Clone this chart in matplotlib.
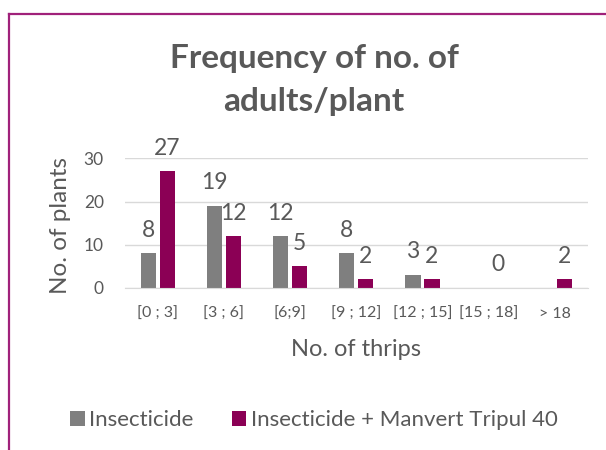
import numpy as np
import matplotlib
matplotlib.use('Agg')
import matplotlib.pyplot as plt
from matplotlib.lines import Line2D

plt.rcParams['font.family'] = ['Lato', 'DejaVu Sans']

categories = ['[0 ; 3]', '[3 ; 6]', '[6;9]', '[9 ; 12]', '[12 ; 15]', '[15 ; 18]', '> 18']
insecticide = [8, 19, 12, 8, 3, np.nan, np.nan]
manvert = [27, 12, 5, 2, 2, 0, 2]

text_col = '#595959'
grey = '#7f7f7f'
purple = '#8b0055'

fig = plt.figure(figsize=(6.06, 4.5), dpi=100)
ax = fig.add_axes([0.2056, 0.3607, 0.7647, 0.2871])

x = np.arange(len(categories))
w = 0.227
off = (w + 0.06) / 2
b1 = ax.bar(x - off, insecticide, w, color=grey, label='Insecticide')
b2 = ax.bar(x + off, manvert, w, color=purple, label='Insecticide + Manvert Tripul 40')

for bars in (b1, b2):
    labels = ax.bar_label(bars, fmt='%d', padding=9, fontsize=16.5, color=text_col)
    for t in labels:
        t.set_clip_on(False)

ax.set_xlim(-0.5, len(categories) - 0.5)
ax.set_ylim(0, 30)
ax.set_yticks([0, 10, 20, 30])
ax.set_xticks(x)
ax.set_xticklabels(categories)
ax.grid(axis='y', color='#d9d9d9', linewidth=1)
ax.set_axisbelow(True)
for s in ['top', 'right', 'left']:
    ax.spines[s].set_visible(False)
ax.spines['bottom'].set_color('#d9d9d9')
ax.tick_params(axis='x', length=0, pad=14, labelsize=11.5, labelcolor=text_col)
ax.tick_params(axis='y', length=0, pad=15, labelsize=12.5, labelcolor=text_col)

ax.set_ylabel('No. of plants', fontsize=17.5, color=text_col)
ax.yaxis.set_label_coords(-0.115, 0.485)
ax.set_xlabel('No. of thrips', fontsize=17, color=text_col)
ax.xaxis.set_label_coords(0.5, -0.395)

fig.text(314 / 606, 1 - 80 / 450, 'Frequency of no. of\nadults/plant', ha='center', va='center',
         fontsize=24, fontweight='bold', color=text_col, linespacing=1.58)

fig.legend(handles=[b1, b2], loc='center', bbox_to_anchor=(314 / 606, 1 - 420 / 450),
           ncol=2, frameon=False, fontsize=16, labelcolor=text_col,
           handlelength=0.64, handleheight=0.64, handletextpad=0.22,
           columnspacing=1.7, borderpad=0, borderaxespad=0)

# chart frame (only top and left edges fall inside the picture)
border = '#a0217a'
fig.add_artist(Line2D([8.5 / 606, 1.0], [1 - 13.5 / 450] * 2, color=border, linewidth=1.6))
fig.add_artist(Line2D([8.5 / 606] * 2, [0.0, 1 - 13.5 / 450], color=border, linewidth=1.6))

fig.savefig('out.png', dpi=100)
